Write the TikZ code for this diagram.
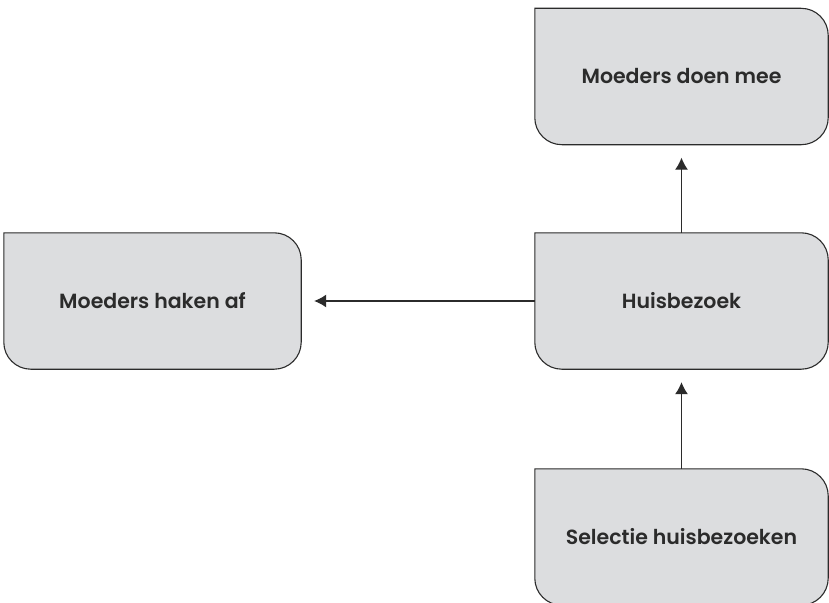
\documentclass[tikz,border=0pt]{standalone}
\usepackage{fontspec}
\setmainfont{Poppins}[BoldFont={Poppins SemiBold}]
\usetikzlibrary{arrows.meta,backgrounds}
\definecolor{boxfill}{HTML}{DCDDDF}
\definecolor{edge}{HTML}{2B2B2B}
\begin{document}
\begin{tikzpicture}[x=1pt,y=-1pt,
  stepbox/.style={minimum width=293pt,minimum height=136pt,inner sep=0pt,
    font=\fontsize{20.5pt}{23pt}\selectfont\bfseries,text=edge},
  boxshape/.style={fill=boxfill,draw=edge,line width=1.1pt},
  conn/.style={draw=edge,line width=1.1pt,-{Latex[length=12pt,width=13pt]},shorten >=13pt}]
\useasboundingbox (0,0) rectangle (829,602);
\node[stepbox] (top) at (681.5,76.5) {Moeders doen mee};
\node[stepbox,minimum width=297pt] (left) at (152.5,301) {Moeders haken af};
\node[stepbox] (hb) at (681.5,301) {Huisbezoek};
\node[stepbox] (sel) at (681.5,537) {Selectie huisbezoeken};
\begin{scope}[on background layer]
\foreach \n in {top,left,hb,sel}{
  \draw[boxshape] (\n.north west) [rounded corners=27pt] -- (\n.north east) -- (\n.south east) -- (\n.south west) [sharp corners] -- cycle;
}
\end{scope}
\draw[conn] (hb.north) -- (top.south);
\draw[conn] (hb.west) -- (left.east);
\draw[conn] (sel.north) -- (hb.south);
\end{tikzpicture}
\end{document}
